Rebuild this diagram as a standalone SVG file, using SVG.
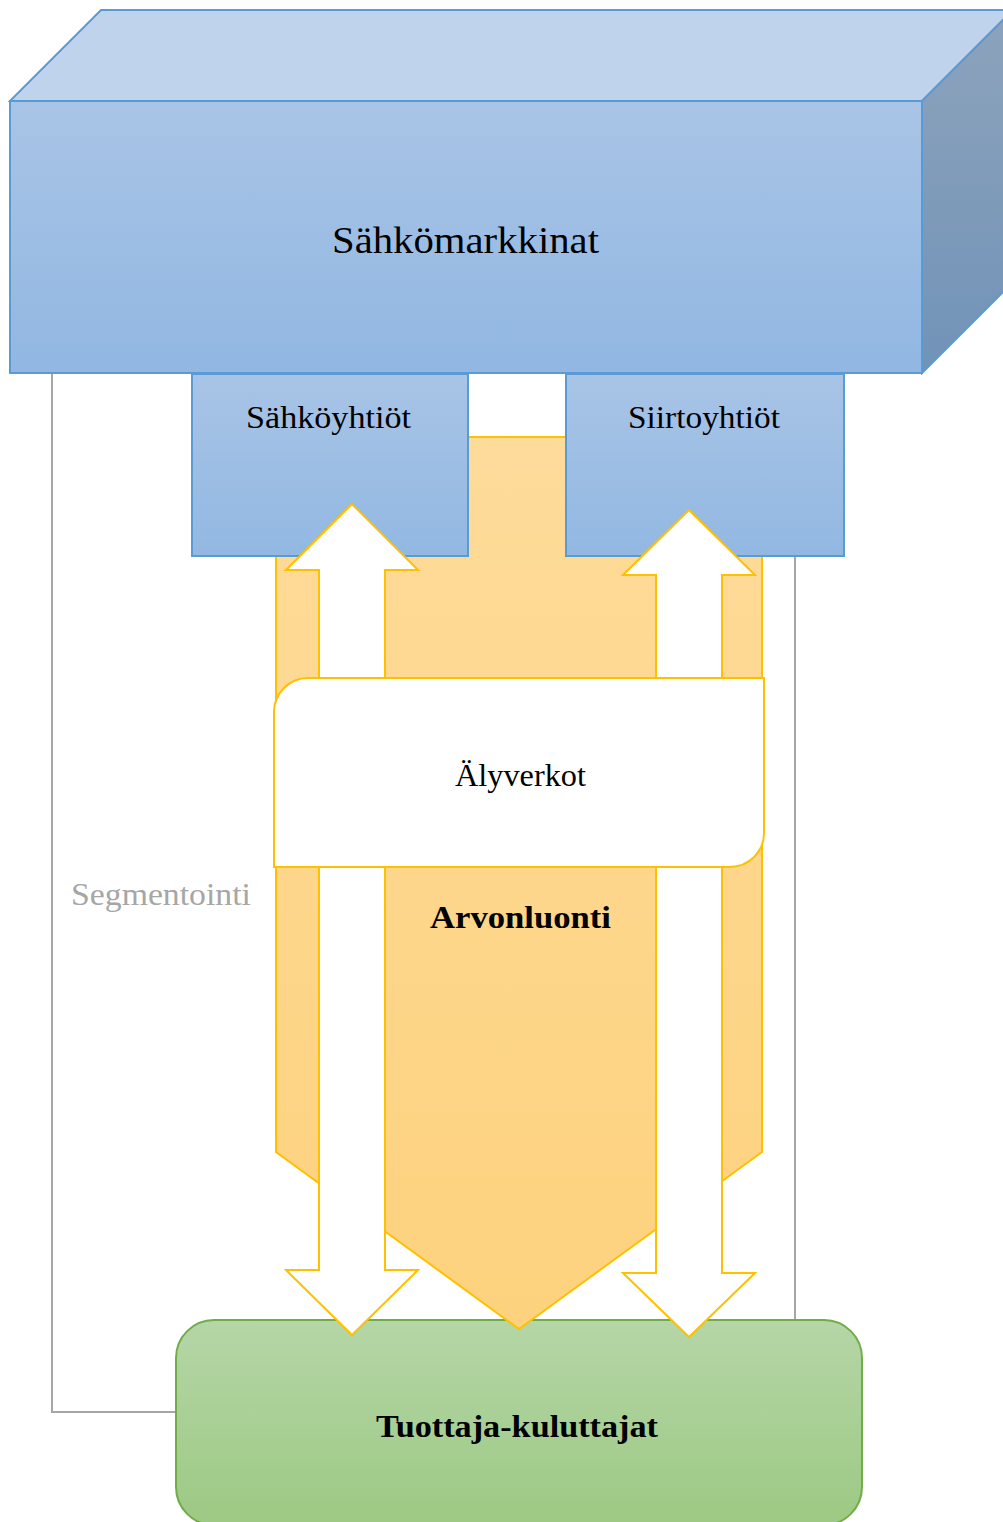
<svg xmlns="http://www.w3.org/2000/svg" width="1003" height="1522" viewBox="0 0 1003 1522">
  <defs>
    <linearGradient id="gFront" x1="0" y1="0" x2="0" y2="1">
      <stop offset="0" stop-color="#a9c4e6"/>
      <stop offset="1" stop-color="#91b7e2"/>
    </linearGradient>
    <linearGradient id="gSide" x1="0" y1="0" x2="0" y2="1">
      <stop offset="0" stop-color="#8da3bc"/>
      <stop offset="1" stop-color="#7193b8"/>
    </linearGradient>
    <linearGradient id="gSmall" x1="0" y1="0" x2="0" y2="1">
      <stop offset="0" stop-color="#a8c4e6"/>
      <stop offset="1" stop-color="#92b8e2"/>
    </linearGradient>
    <linearGradient id="gOrange" x1="0" y1="0" x2="0" y2="1">
      <stop offset="0" stop-color="#fddb9a"/>
      <stop offset="1" stop-color="#fdd27e"/>
    </linearGradient>
    <linearGradient id="gGreen" x1="0" y1="0" x2="0" y2="1">
      <stop offset="0" stop-color="#b5d6a7"/>
      <stop offset="1" stop-color="#9cc983"/>
    </linearGradient>
  </defs>
  <style>
    .blue { stroke: #5b9bd5; stroke-width: 2; stroke-linejoin: miter; }
    .gold { stroke: #ffc000; stroke-width: 2; stroke-linejoin: miter; }
    .arrow { fill: #ffffff; stroke: #ffc000; stroke-width: 2; stroke-linejoin: miter; }
    .lbl { font-family: "Liberation Serif", "DejaVu Serif", serif; fill: #000000; text-anchor: start; }
    .b { font-weight: bold; }
  </style>

  <g id="segmentointi">
    <rect x="52" y="300" width="743" height="1112" fill="none" stroke="#a6a6a6" stroke-width="2"/>
    <text class="lbl" x="71" y="905" font-size="32" fill="#a6a6a6" style="fill:#a6a6a6" textLength="180" lengthAdjust="spacingAndGlyphs">Segmentointi</text>
  </g>

  <g id="tuottaja-kuluttajat">
    <rect x="176" y="1320" width="686" height="205" rx="38" ry="38" fill="url(#gGreen)" stroke="#70ad47" stroke-width="2"/>
    <text class="lbl b" x="376" y="1437" font-size="32" textLength="282" lengthAdjust="spacingAndGlyphs">Tuottaja-kuluttajat</text>
  </g>

  <g id="arvonluonti">
    <polygon class="gold" fill="url(#gOrange)" points="276,437 762,437 762,1152 519,1329 276,1152"/>
    <text class="lbl b" x="430" y="928" font-size="32" textLength="181" lengthAdjust="spacingAndGlyphs">Arvonluonti</text>
  </g>

  <g id="sahkoyhtiot">
    <rect class="blue" x="192" y="374" width="276" height="182" fill="url(#gSmall)"/>
    <text class="lbl" x="246" y="428" font-size="32" textLength="165" lengthAdjust="spacingAndGlyphs">Sähköyhtiöt</text>
  </g>

  <g id="siirtoyhtiot">
    <rect class="blue" x="566" y="374" width="278" height="182" fill="url(#gSmall)"/>
    <text class="lbl" x="628" y="428" font-size="32" textLength="152" lengthAdjust="spacingAndGlyphs">Siirtoyhtiöt</text>
  </g>

  <g id="connectors">
    <polygon class="arrow" points="352,504 418,570 385,570 385,1270 418,1270 352,1335 286,1270 319,1270 319,570 286,570"/>
    <polygon class="arrow" points="689,510 755,575 722,575 722,1273 755,1273 689,1337 623,1273 656,1273 656,575 623,575"/>
  </g>

  <g id="alyverkot">
    <path class="gold" fill="#ffffff" d="M 308,678 L 764,678 L 764,833 A 34,34 0 0 1 730,867 L 274,867 L 274,712 A 34,34 0 0 1 308,678 Z"/>
    <text class="lbl" x="455" y="786" font-size="32" textLength="131" lengthAdjust="spacingAndGlyphs">Älyverkot</text>
  </g>

  <g id="sahkomarkkinat">
    <polygon class="blue" fill="#bfd4ec" points="10,101 101,10 1013,10 922,101"/>
    <polygon class="blue" fill="url(#gSide)" points="922,101 1013,10 1013,282 922,373"/>
    <rect class="blue" x="10" y="101" width="912" height="272" fill="url(#gFront)"/>
    <text class="lbl" x="332" y="253" font-size="37" textLength="267" lengthAdjust="spacingAndGlyphs">Sähkömarkkinat</text>
  </g>
</svg>
